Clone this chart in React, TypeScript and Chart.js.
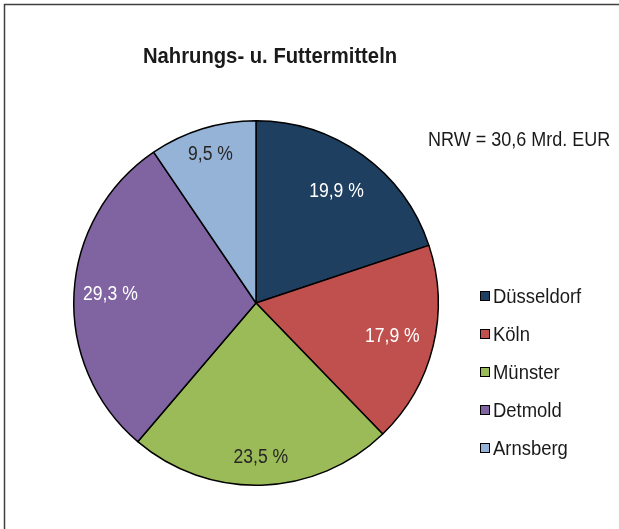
import React, { useEffect, useRef } from "react";
import { Chart, registerables } from "chart.js";

Chart.register(...registerables);

const categories = ["Düsseldorf", "Köln", "Münster", "Detmold", "Arnsberg"];
const shares = [19.9, 17.9, 23.5, 29.3, 9.5];
const shareLabels = ["19,9 %", "17,9 %", "23,5 %", "29,3 %", "9,5 %"];
const chartTitle = "Nahrungs- u. Futtermitteln";
const noteText = "NRW = 30,6 Mrd. EUR";

const sliceColors = ["#1F3F60", "#C0504D", "#9BBB59", "#8064A2", "#95B3D7"];
const labelColors = ["#FFFFFF", "#FFFFFF", "#262626", "#FFFFFF", "#262626"];
const labelRadiusFactors = [0.755, 0.77, 0.85, 0.8, 0.85];

const FONT = "'Liberation Sans', Arial, Helvetica, sans-serif";
const SX = 0.9;

function drawText(ctx: any, text: string, x: number, y: number, size: number, bold: boolean, align: string, color: string) {
  ctx.save();
  ctx.font = `${bold ? "bold " : ""}${size}px ${FONT}`;
  ctx.textAlign = align;
  ctx.textBaseline = "middle";
  ctx.fillStyle = color;
  ctx.translate(x, y);
  ctx.scale(SX, 1);
  ctx.fillText(text, 0, 0);
  ctx.restore();
}

const decorPlugin = {
  id: "decor",
  beforeDraw(chart: any) {
    const ctx = chart.ctx;
    ctx.save();
    ctx.fillStyle = "#FFFFFF";
    ctx.fillRect(0, 0, chart.width, chart.height);
    ctx.strokeStyle = "#404040";
    ctx.lineWidth = 1.5;
    ctx.beginPath();
    ctx.moveTo(4.5, chart.height + 5);
    ctx.lineTo(4.5, 4.5);
    ctx.lineTo(chart.width + 5, 4.5);
    ctx.stroke();
    ctx.restore();
  },
  afterDraw(chart: any) {
    const ctx = chart.ctx;
    drawText(ctx, chartTitle, 270, 57, 22.5, true, "center", "#1A1A1A");
    drawText(ctx, noteText, 428, 140, 20, false, "left", "#1A1A1A");
    const meta = chart.getDatasetMeta(0);
    meta.data.forEach((arc: any, i: number) => {
      const p = arc.getProps(["x", "y", "startAngle", "endAngle", "outerRadius"], true);
      const mid = (p.startAngle + p.endAngle) / 2;
      const r = p.outerRadius * labelRadiusFactors[i];
      drawText(ctx, shareLabels[i], p.x + Math.cos(mid) * r, p.y + Math.sin(mid) * r, 19.5, false, "center", labelColors[i]);
    });
    categories.forEach((c, i) => {
      const cy = 296 + i * 38;
      ctx.save();
      ctx.fillStyle = sliceColors[i];
      ctx.fillRect(480, cy - 5, 10, 10);
      ctx.strokeStyle = "#000000";
      ctx.lineWidth = 1;
      ctx.strokeRect(480.5, cy - 4.5, 9, 9);
      ctx.restore();
      drawText(ctx, c, 493, cy + 1, 20.5, false, "left", "#1A1A1A");
    });
  },
};

export default function App() {
  const ref = useRef<HTMLCanvasElement>(null);
  useEffect(() => {
    document.body.style.overflow = "hidden";
    if (!ref.current) return;
    const chart = new Chart(ref.current, {
      type: "pie",
      data: {
        labels: categories,
        datasets: [
          {
            data: shares,
            backgroundColor: sliceColors,
            borderColor: "#000000",
            borderWidth: 1.5,
          },
        ],
      },
      options: {
        responsive: false,
        animation: false,
        layout: { padding: { left: 73, right: 180, top: 120, bottom: 43 } },
        plugins: {
          legend: { display: false },
          title: { display: false },
          tooltip: { enabled: false },
        },
      },
      plugins: [decorPlugin],
    });
    return () => chart.destroy();
  }, []);
  return (
    <div style={{ position: "absolute", left: 0, top: 0, width: 619, height: 529, overflow: "hidden" }}>
      <canvas ref={ref} width={619} height={529} style={{ display: "block" }} />
    </div>
  );
}
